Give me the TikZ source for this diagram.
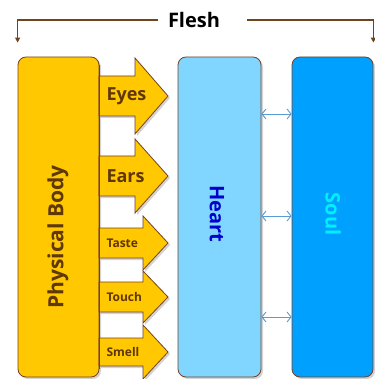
\documentclass[tikz,border=0pt]{standalone}
\usepackage{fontspec}
\setmainfont{Open Sans}
\usetikzlibrary{arrows.meta,shadows}
\definecolor{gold}{RGB}{255,200,0}
\definecolor{edge}{RGB}{120,65,35}
\definecolor{brownink}{RGB}{95,55,0}
\definecolor{heartfill}{RGB}{128,214,255}
\definecolor{soulfill}{RGB}{0,160,255}
\definecolor{heartink}{RGB}{0,0,205}
\definecolor{soulink}{RGB}{0,240,255}
\definecolor{linkblue}{RGB}{91,155,213}
\definecolor{bracketbrown}{RGB}{110,70,30}

\begin{document}
\begin{tikzpicture}[x=1pt, y=-1pt,
    box/.style = {draw=edge, line width=0.8pt, rounded corners=8pt, minimum height=320pt,
                  drop shadow={shadow xshift=2pt, shadow yshift=-2pt, opacity=0.35}},
    boxtext/.style = {font=\bfseries\fontsize{20}{20}\selectfont},
    sense/.style = {fill=gold, draw=edge, line width=0.8pt, line join=miter,
                    drop shadow={shadow xshift=2pt, shadow yshift=-2pt, opacity=0.35}},
    link/.style = {draw=linkblue, line width=0.9pt, {Straight Barb[length=4pt,width=10pt]}-{Straight Barb[length=4pt,width=10pt]}},
    bracket/.style = {draw=bracketbrown, line width=1.4pt, -{Triangle[length=5pt,width=5pt]}}]
\useasboundingbox (0,0) rectangle (374,379);

% title and bracket
\node[boxtext, inner sep=0pt] (flesh) at (194,20) {Flesh};

% the three columns
\node[box, fill=gold, minimum width=81pt] (body) at (58.5,217) {};
\node[box, fill=heartfill, minimum width=83pt] (heart) at (219.5,217) {};
\node[box, fill=soulfill, minimum width=81pt] (soul) at (332.5,217) {};

\draw[bracket] ([xshift=-10pt]flesh.west) -| ([yshift=14pt]body.north west);
\draw[bracket] ([xshift=27pt]flesh.east) -| ([yshift=14pt]soul.north east);

% senses
\foreach \name/\c/\s/\h/\l/\fs/\txt in {eyes/96/20/38/33/18/Eyes, ears/176/20/37/33/18/Ears,
    taste/243/15/27/25/12/Taste, touch/297/15/26/25/12/Touch, smell/352/14/27/25/12/Smell}
{
  \draw[sense] (99,\c-\s) -- (168-\l,\c-\s) -- (168-\l,\c-\h) -- (168,\c)
      -- (168-\l,\c+\h) -- (168-\l,\c+\s) -- (99,\c+\s) -- cycle;
  \node[anchor=west, text=brownink, font=\bfseries\fontsize{\fs}{\fs}\selectfont] (\name) at (103,\c) {\txt};
}

% redraw body edge over arrow tails
\draw[draw=edge, line width=0.8pt] ([yshift=-8pt]body.north east) -- ([yshift=8pt]body.south east);

\node[boxtext, text=brownink, rotate=90, font=\bfseries\fontsize{21}{21}\selectfont] (bodytext) at (58,237) {Physical Body};
\node[boxtext, text=heartink, rotate=-90] (hearttext) at (217,214) {Heart};
\node[boxtext, text=soulink, rotate=-90] (soultext) at (333,214) {Soul};

% links between heart and soul
\foreach \dy in {103,1,-100}
  \draw[link] ([yshift=\dy pt]heart.east) -- ([yshift=\dy pt]soul.west);
\end{tikzpicture}
\end{document}
